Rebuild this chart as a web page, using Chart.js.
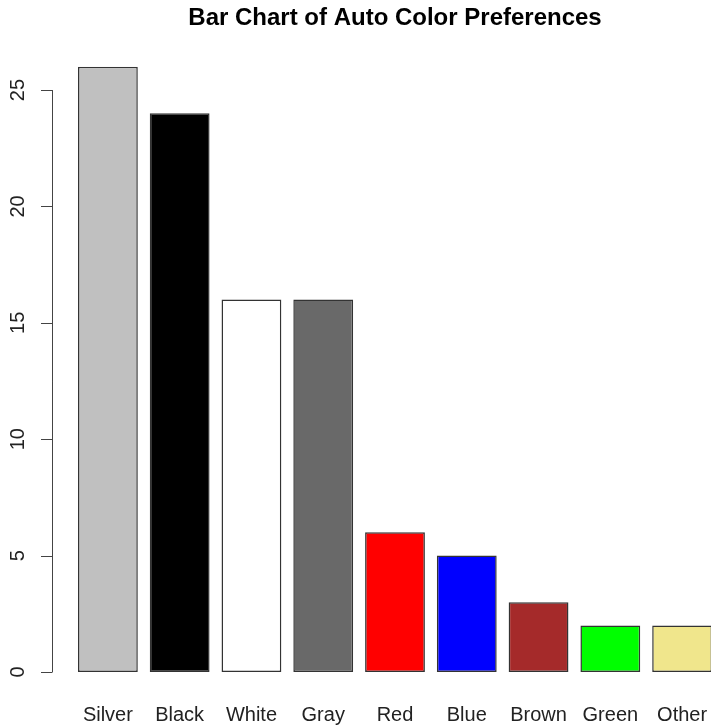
<!DOCTYPE html>
<html lang="en">
<head>
  <meta charset="UTF-8" />
  <title>Bar Chart of Auto Color Preferences</title>
  <script src="https://cdn.jsdelivr.net/npm/chart.js"></script>
  <style>
    body {
      margin: 0;
      background: #fff;
    }

    .wrap {
      width: 711px;
      height: 727px;
      overflow: hidden;
    }
  </style>
</head>
<body>
  <div class="wrap">
    <canvas id="colorChart" width="740" height="727"></canvas>
  </div>

  <script>
    const colorNames = ['Silver', 'Black', 'White', 'Gray', 'Red', 'Blue', 'Brown', 'Green', 'Other'];
    const counts = [26, 24, 16, 16, 6, 5, 3, 2, 2];
    const barColors = ['#C0C0C0', '#000000', '#FFFFFF', '#696969', '#FF0000', '#0000FF', '#A52A2A', '#00FF00', '#F0E68C'];
    const yTicks = [0, 5, 10, 15, 20, 25];

    const FONT = '"Liberation Sans", Arial, sans-serif';

    // R style y axis: line only from first to last tick, vertical labels
    const rAxis = {
      id: 'rAxis',
      afterDraw(chart) {
        const ctx = chart.ctx;
        const y = chart.scales.y;
        const axisX = 52.5;
        ctx.save();
        ctx.strokeStyle = '#444';
        ctx.lineWidth = 1;
        ctx.beginPath();
        ctx.moveTo(axisX, y.getPixelForValue(yTicks[0]));
        ctx.lineTo(axisX, y.getPixelForValue(yTicks[yTicks.length - 1]));
        yTicks.forEach(t => {
          const py = Math.round(y.getPixelForValue(t)) + 0.5;
          ctx.moveTo(axisX, py);
          ctx.lineTo(41, py);
        });
        ctx.stroke();

        ctx.fillStyle = '#222';
        ctx.font = '20px ' + FONT;
        ctx.textAlign = 'center';
        ctx.textBaseline = 'middle';
        yTicks.forEach(t => {
          ctx.save();
          ctx.translate(18, y.getPixelForValue(t));
          ctx.rotate(-Math.PI / 2);
          ctx.fillText(String(t), 0, 0);
          ctx.restore();
        });
        ctx.restore();
      }
    };

    new Chart(document.getElementById('colorChart'), {
      type: 'bar',
      data: {
        labels: colorNames,
        datasets: [{
          data: counts,
          backgroundColor: barColors,
          borderColor: '#333',
          borderWidth: 1.5,
          borderSkipped: false,
          categoryPercentage: 1,
          barPercentage: 1 / 1.2
        }]
      },
      options: {
        responsive: false,
        animation: false,
        layout: {
          padding: { left: 72, right: 22, top: 0, bottom: 0 }
        },
        plugins: {
          legend: { display: false },
          tooltip: { enabled: false },
          title: {
            display: true,
            text: 'Bar Chart of Auto Color Preferences',
            color: '#000',
            font: { family: FONT, size: 24, weight: 'bold' },
            padding: { top: 4, bottom: 34 }
          }
        },
        scales: {
          x: {
            grid: { display: false, drawTicks: false },
            border: { display: false },
            ticks: {
              color: '#222',
              font: { family: FONT, size: 20 },
              padding: 31,
              maxRotation: 0,
              autoSkip: false
            },
            afterFit: s => { s.height = 55; }
          },
          y: {
            display: false,
            min: 0,
            max: 26
          }
        }
      },
      plugins: [rAxis]
    });
  </script>
</body>
</html>
